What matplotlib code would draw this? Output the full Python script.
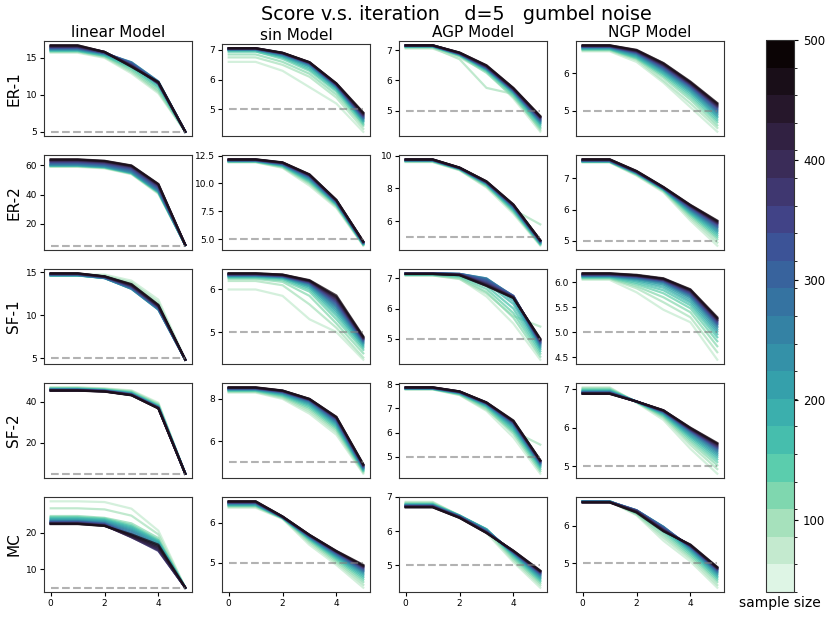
import numpy as np
import matplotlib
matplotlib.use("Agg")
import matplotlib.pyplot as plt
from matplotlib.colors import ListedColormap, BoundaryNorm
import matplotlib.cm as cm
import seaborn as sns

iterations = [0, 1, 2, 3, 4, 5]
graphs = ["ER-1", "ER-2", "SF-1", "SF-2", "MC"]
models = ["linear Model", "sin Model", "AGP Model", "NGP Model"]
true_value = 5
# 20 sample-size levels, rows go from smallest (lightest) to largest (darkest)
bounds = np.linspace(40, 500, 21)
cbar_ticks = [100, 200, 300, 400, 500]

# ---------------- ER-1 ----------------
er1_lin = [
    [15.7, 15.7, 15.0, 12.9, 10.2, 5.0], [15.8, 15.8, 15.1, 13.1, 10.4, 5.0],
    [15.9, 15.9, 15.2, 13.3, 10.6, 5.0], [15.9, 15.9, 15.3, 13.5, 10.9, 5.0],
    [16.0, 16.0, 15.3, 13.7, 11.1, 5.0], [16.0, 16.0, 15.4, 13.9, 11.3, 5.0],
    [16.1, 16.1, 15.5, 14.1, 11.5, 5.0], [16.1, 16.1, 15.5, 14.2, 11.6, 5.0],
    [16.2, 16.2, 15.6, 14.4, 11.8, 5.0], [16.2, 16.2, 15.6, 14.4, 11.8, 5.0],
    [16.3, 16.3, 15.6, 14.3, 11.7, 5.0], [16.3, 16.3, 15.7, 14.3, 11.7, 5.0],
    [16.4, 16.4, 15.7, 14.2, 11.6, 5.0], [16.4, 16.4, 15.7, 14.1, 11.5, 5.0],
    [16.5, 16.5, 15.7, 14.0, 11.5, 5.0], [16.5, 16.5, 15.8, 14.0, 11.6, 5.0],
    [16.6, 16.6, 15.8, 13.9, 11.6, 5.0], [16.6, 16.6, 15.8, 13.9, 11.7, 5.0],
    [16.7, 16.7, 15.8, 13.8, 11.7, 5.0], [16.7, 16.7, 15.8, 13.8, 11.7, 5.0],
]
er1_sin = [
    [6.60, 6.60, 6.30, 5.75, 5.20, 4.25], [6.75, 6.75, 6.50, 6.10, 5.40, 4.35],
    [6.85, 6.85, 6.60, 6.20, 5.50, 4.45], [6.95, 6.95, 6.70, 6.30, 5.60, 4.50],
    [6.95, 6.95, 6.75, 6.35, 5.65, 4.55], [7.00, 7.00, 6.78, 6.40, 5.70, 4.60],
    [7.00, 7.00, 6.80, 6.45, 5.72, 4.62], [7.00, 7.00, 6.82, 6.47, 5.75, 4.65],
    [7.02, 7.02, 6.84, 6.50, 5.77, 4.68], [7.02, 7.02, 6.85, 6.52, 5.78, 4.70],
    [7.03, 7.03, 6.86, 6.53, 5.80, 4.72], [7.03, 7.03, 6.87, 6.54, 5.81, 4.74],
    [7.04, 7.04, 6.88, 6.55, 5.82, 4.76], [7.04, 7.04, 6.88, 6.56, 5.83, 4.78],
    [7.05, 7.05, 6.89, 6.57, 5.84, 4.80], [7.05, 7.05, 6.89, 6.57, 5.85, 4.82],
    [7.05, 7.05, 6.90, 6.58, 5.86, 4.84], [7.06, 7.06, 6.90, 6.58, 5.86, 4.86],
    [7.06, 7.06, 6.90, 6.59, 5.87, 4.88], [7.06, 7.06, 6.91, 6.59, 5.88, 4.90],
]
er1_agp = [
    [7.05, 7.05, 6.75, 6.30, 5.40, 4.30], [7.08, 7.08, 6.70, 5.75, 5.55, 4.35],
    [7.10, 7.10, 6.80, 6.25, 5.45, 4.40], [7.10, 7.10, 6.82, 6.30, 5.50, 4.45],
    [7.12, 7.12, 6.84, 6.33, 5.55, 4.50], [7.12, 7.12, 6.85, 6.35, 5.58, 4.55],
    [7.13, 7.13, 6.86, 6.37, 5.60, 4.58], [7.13, 7.13, 6.86, 6.38, 5.62, 4.60],
    [7.14, 7.14, 6.87, 6.39, 5.64, 4.63], [7.14, 7.14, 6.87, 6.40, 5.65, 4.65],
    [7.14, 7.14, 6.88, 6.41, 5.66, 4.67], [7.15, 7.15, 6.88, 6.42, 5.67, 4.69],
    [7.15, 7.15, 6.89, 6.43, 5.68, 4.71], [7.15, 7.15, 6.89, 6.44, 5.69, 4.73],
    [7.15, 7.15, 6.90, 6.45, 5.70, 4.75], [7.16, 7.16, 6.90, 6.46, 5.71, 4.77],
    [7.16, 7.16, 6.91, 6.47, 5.72, 4.78], [7.16, 7.16, 6.91, 6.48, 5.73, 4.79],
    [7.16, 7.16, 6.92, 6.49, 5.74, 4.80], [7.16, 7.16, 6.92, 6.50, 5.75, 4.82],
]
er1_ngp = [
    [6.58, 6.58, 6.30, 5.75, 5.10, 4.45], [6.60, 6.60, 6.35, 5.80, 5.20, 4.55],
    [6.62, 6.62, 6.38, 5.88, 5.30, 4.62], [6.63, 6.63, 6.40, 5.93, 5.37, 4.70],
    [6.64, 6.64, 6.42, 5.97, 5.43, 4.76], [6.65, 6.65, 6.44, 6.00, 5.48, 4.82],
    [6.66, 6.66, 6.46, 6.03, 5.52, 4.86], [6.67, 6.67, 6.48, 6.06, 5.55, 4.90],
    [6.68, 6.68, 6.50, 6.08, 5.58, 4.94], [6.69, 6.69, 6.51, 6.10, 5.61, 4.97],
    [6.70, 6.70, 6.53, 6.12, 5.63, 5.00], [6.70, 6.70, 6.54, 6.14, 5.65, 5.03],
    [6.71, 6.71, 6.55, 6.16, 5.67, 5.06], [6.71, 6.71, 6.56, 6.18, 5.69, 5.09],
    [6.72, 6.72, 6.57, 6.20, 5.70, 5.11], [6.72, 6.72, 6.58, 6.21, 5.72, 5.13],
    [6.73, 6.73, 6.59, 6.23, 5.73, 5.15], [6.73, 6.73, 6.60, 6.24, 5.75, 5.17],
    [6.74, 6.74, 6.61, 6.26, 5.76, 5.19], [6.74, 6.74, 6.62, 6.27, 5.78, 5.21],
]

# ---------------- ER-2 ----------------
er2_lin = [
    [59.0, 59.0, 58.0, 54.0, 40.5, 5.5], [59.3, 59.3, 58.3, 54.3, 41.0, 5.5],
    [59.5, 59.5, 58.5, 54.5, 41.3, 5.5], [59.7, 59.7, 58.7, 54.7, 41.6, 5.5],
    [59.8, 59.8, 58.8, 54.8, 41.8, 5.5], [60.0, 60.0, 59.0, 55.0, 42.0, 5.5],
    [60.1, 60.1, 59.1, 55.2, 42.2, 5.5], [60.3, 60.3, 59.3, 55.4, 42.5, 5.5],
    [60.5, 60.5, 59.5, 55.6, 42.8, 5.5], [60.8, 60.8, 59.8, 56.0, 43.2, 5.5],
    [61.2, 61.2, 60.2, 56.5, 43.7, 5.5], [61.6, 61.6, 60.6, 57.0, 44.2, 5.5],
    [62.0, 62.0, 61.0, 57.5, 44.7, 5.5], [62.4, 62.4, 61.4, 58.0, 45.2, 5.5],
    [62.8, 62.8, 61.8, 58.5, 45.7, 5.5], [63.2, 63.2, 62.2, 59.0, 46.2, 5.5],
    [63.5, 63.5, 62.5, 59.3, 46.6, 5.5], [63.8, 63.8, 62.8, 59.6, 46.9, 5.5],
    [64.0, 64.0, 63.0, 59.8, 47.1, 5.5], [64.2, 64.2, 63.2, 60.0, 47.3, 5.5],
]
er2_sin = [
    [11.90, 11.90, 11.40, 9.80, 7.80, 4.40], [11.92, 11.92, 11.45, 9.95, 7.90, 4.45],
    [11.95, 11.95, 11.50, 10.05, 7.98, 4.48], [11.97, 11.97, 11.55, 10.15, 8.05, 4.50],
    [11.99, 11.99, 11.58, 10.22, 8.10, 4.53], [12.00, 12.00, 11.62, 10.30, 8.15, 4.55],
    [12.02, 12.02, 11.65, 10.36, 8.19, 4.57], [12.04, 12.04, 11.68, 10.42, 8.23, 4.59],
    [12.05, 12.05, 11.70, 10.47, 8.27, 4.61], [12.06, 12.06, 11.73, 10.52, 8.30, 4.63],
    [12.08, 12.08, 11.75, 10.57, 8.33, 4.65], [12.09, 12.09, 11.77, 10.61, 8.36, 4.67],
    [12.10, 12.10, 11.79, 10.65, 8.39, 4.69], [12.11, 12.11, 11.81, 10.68, 8.41, 4.70],
    [12.12, 12.12, 11.83, 10.71, 8.43, 4.72], [12.13, 12.13, 11.85, 10.74, 8.45, 4.73],
    [12.14, 12.14, 11.86, 10.76, 8.47, 4.74], [12.15, 12.15, 11.87, 10.78, 8.48, 4.75],
    [12.16, 12.16, 11.88, 10.80, 8.50, 4.76], [12.17, 12.17, 11.90, 10.82, 8.52, 4.78],
]
er2_agp = [
    [9.60, 9.60, 9.10, 8.05, 6.45, 4.50], [9.62, 9.62, 9.12, 8.10, 6.70, 5.80],
    [9.64, 9.64, 9.14, 8.15, 6.55, 4.55], [9.66, 9.66, 9.16, 8.19, 6.62, 4.58],
    [9.67, 9.67, 9.17, 8.22, 6.68, 4.61], [9.68, 9.68, 9.18, 8.25, 6.73, 4.64],
    [9.69, 9.69, 9.19, 8.27, 6.77, 4.66], [9.70, 9.70, 9.20, 8.29, 6.80, 4.68],
    [9.71, 9.71, 9.21, 8.31, 6.83, 4.70], [9.72, 9.72, 9.22, 8.33, 6.86, 4.72],
    [9.72, 9.72, 9.22, 8.34, 6.88, 4.74], [9.73, 9.73, 9.23, 8.35, 6.90, 4.75],
    [9.73, 9.73, 9.23, 8.36, 6.92, 4.77], [9.74, 9.74, 9.24, 8.37, 6.94, 4.78],
    [9.74, 9.74, 9.24, 8.38, 6.96, 4.79], [9.75, 9.75, 9.25, 8.39, 6.97, 4.80],
    [9.75, 9.75, 9.25, 8.40, 6.98, 4.81], [9.76, 9.76, 9.26, 8.41, 6.99, 4.82],
    [9.76, 9.76, 9.26, 8.42, 7.00, 4.83], [9.77, 9.77, 9.27, 8.43, 7.02, 4.84],
]
er2_ngp = [
    [7.50, 7.50, 7.08, 6.55, 5.65, 4.85], [7.51, 7.51, 7.10, 6.58, 5.72, 4.95],
    [7.52, 7.52, 7.12, 6.60, 5.78, 5.05], [7.52, 7.52, 7.13, 6.62, 5.83, 5.12],
    [7.53, 7.53, 7.14, 6.63, 5.87, 5.18], [7.53, 7.53, 7.15, 6.64, 5.90, 5.24],
    [7.54, 7.54, 7.16, 6.65, 5.93, 5.29], [7.54, 7.54, 7.17, 6.66, 5.96, 5.33],
    [7.55, 7.55, 7.17, 6.67, 5.98, 5.37], [7.55, 7.55, 7.18, 6.67, 6.00, 5.41],
    [7.56, 7.56, 7.18, 6.68, 6.02, 5.44], [7.56, 7.56, 7.19, 6.68, 6.04, 5.47],
    [7.57, 7.57, 7.19, 6.69, 6.06, 5.50], [7.57, 7.57, 7.20, 6.69, 6.08, 5.53],
    [7.58, 7.58, 7.20, 6.70, 6.09, 5.55], [7.58, 7.58, 7.21, 6.70, 6.11, 5.57],
    [7.59, 7.59, 7.21, 6.70, 6.12, 5.59], [7.59, 7.59, 7.22, 6.71, 6.13, 5.61],
    [7.60, 7.60, 7.22, 6.71, 6.14, 5.63], [7.60, 7.60, 7.23, 6.72, 6.15, 5.65],
]

# ---------------- SF-1 ----------------
sf1_lin = [
    [14.70, 14.70, 14.70, 14.00, 11.80, 4.85], [14.65, 14.65, 14.60, 13.80, 11.50, 4.85],
    [14.62, 14.62, 14.50, 13.60, 11.20, 4.85], [14.60, 14.60, 14.40, 13.40, 11.00, 4.85],
    [14.60, 14.60, 14.35, 13.25, 10.85, 4.85], [14.60, 14.60, 14.30, 13.15, 10.75, 4.85],
    [14.62, 14.62, 14.30, 13.10, 10.70, 4.85], [14.63, 14.63, 14.30, 13.05, 10.65, 4.85],
    [14.65, 14.65, 14.30, 13.05, 10.65, 4.85], [14.67, 14.67, 14.32, 13.10, 10.70, 4.85],
    [14.70, 14.70, 14.35, 13.15, 10.75, 4.85], [14.72, 14.72, 14.37, 13.20, 10.80, 4.85],
    [14.74, 14.74, 14.40, 13.25, 10.85, 4.85], [14.76, 14.76, 14.42, 13.30, 10.90, 4.85],
    [14.78, 14.78, 14.44, 13.35, 10.95, 4.85], [14.80, 14.80, 14.46, 13.40, 11.00, 4.85],
    [14.81, 14.81, 14.47, 13.45, 11.05, 4.85], [14.82, 14.82, 14.48, 13.50, 11.10, 4.85],
    [14.84, 14.84, 14.49, 13.55, 11.15, 4.85], [14.85, 14.85, 14.50, 13.60, 11.20, 4.85],
]
sf1_sin = [
    [6.00, 6.00, 5.85, 5.30, 5.00, 4.35], [6.20, 6.20, 6.10, 5.65, 5.10, 4.40],
    [6.25, 6.25, 6.18, 5.85, 5.20, 4.50], [6.27, 6.27, 6.22, 5.95, 5.30, 4.58],
    [6.29, 6.29, 6.25, 6.00, 5.38, 4.63], [6.30, 6.30, 6.27, 6.04, 5.44, 4.67],
    [6.31, 6.31, 6.28, 6.07, 5.49, 4.70], [6.32, 6.32, 6.29, 6.09, 5.53, 4.73],
    [6.33, 6.33, 6.30, 6.11, 5.57, 4.75], [6.33, 6.33, 6.30, 6.13, 5.60, 4.77],
    [6.34, 6.34, 6.31, 6.14, 5.63, 4.79], [6.34, 6.34, 6.31, 6.15, 5.66, 4.80],
    [6.35, 6.35, 6.32, 6.16, 5.69, 4.82], [6.35, 6.35, 6.32, 6.17, 5.71, 4.83],
    [6.36, 6.36, 6.33, 6.18, 5.74, 4.84], [6.36, 6.36, 6.33, 6.19, 5.76, 4.85],
    [6.37, 6.37, 6.34, 6.20, 5.79, 4.86], [6.37, 6.37, 6.34, 6.20, 5.81, 4.87],
    [6.38, 6.38, 6.35, 6.21, 5.83, 4.88], [6.38, 6.38, 6.35, 6.22, 5.86, 4.90],
]
sf1_agp = [
    [7.10, 7.10, 7.00, 6.40, 5.50, 4.30], [7.10, 7.10, 6.98, 6.50, 5.75, 5.40],
    [7.11, 7.11, 7.02, 6.55, 5.70, 4.40], [7.12, 7.12, 7.05, 6.65, 5.85, 4.50],
    [7.13, 7.13, 7.08, 6.75, 6.00, 4.58], [7.14, 7.14, 7.10, 6.85, 6.15, 4.65],
    [7.15, 7.15, 7.12, 6.92, 6.25, 4.70], [7.16, 7.16, 7.14, 6.97, 6.32, 4.74],
    [7.17, 7.17, 7.15, 7.00, 6.38, 4.78], [7.17, 7.17, 7.15, 7.00, 6.40, 4.81],
    [7.17, 7.17, 7.15, 6.98, 6.42, 4.84], [7.17, 7.17, 7.15, 6.95, 6.42, 4.86],
    [7.17, 7.17, 7.14, 6.92, 6.41, 4.88], [7.16, 7.16, 7.14, 6.88, 6.40, 4.90],
    [7.16, 7.16, 7.13, 6.85, 6.39, 4.92], [7.16, 7.16, 7.13, 6.82, 6.38, 4.94],
    [7.16, 7.16, 7.12, 6.80, 6.37, 4.95], [7.15, 7.15, 7.12, 6.78, 6.36, 4.97],
    [7.15, 7.15, 7.11, 6.76, 6.36, 4.98], [7.15, 7.15, 7.11, 6.75, 6.35, 5.00],
]
sf1_ngp = [
    [6.05, 6.05, 5.80, 5.45, 5.20, 4.45], [6.07, 6.07, 5.88, 5.60, 5.30, 4.60],
    [6.08, 6.08, 5.92, 5.70, 5.40, 4.72], [6.09, 6.09, 5.96, 5.78, 5.48, 4.82],
    [6.10, 6.10, 5.99, 5.84, 5.54, 4.90], [6.11, 6.11, 6.02, 5.89, 5.59, 4.96],
    [6.12, 6.12, 6.04, 5.93, 5.63, 5.01], [6.12, 6.12, 6.06, 5.96, 5.67, 5.05],
    [6.13, 6.13, 6.07, 5.98, 5.70, 5.09], [6.13, 6.13, 6.08, 6.00, 5.72, 5.12],
    [6.14, 6.14, 6.09, 6.01, 5.74, 5.15], [6.14, 6.14, 6.10, 6.02, 5.76, 5.17],
    [6.15, 6.15, 6.11, 6.03, 5.77, 5.19], [6.15, 6.15, 6.12, 6.04, 5.79, 5.21],
    [6.16, 6.16, 6.12, 6.05, 5.80, 5.23], [6.16, 6.16, 6.13, 6.05, 5.82, 5.24],
    [6.17, 6.17, 6.13, 6.06, 5.83, 5.26], [6.17, 6.17, 6.14, 6.07, 5.84, 5.27],
    [6.18, 6.18, 6.14, 6.07, 5.85, 5.28], [6.18, 6.18, 6.15, 6.08, 5.86, 5.30],
]

# ---------------- SF-2 ----------------
sf2_lin = [
    [47.0, 47.0, 46.5, 45.5, 39.5, 5.0], [46.8, 46.8, 46.3, 45.2, 39.0, 5.0],
    [46.6, 46.6, 46.1, 44.9, 38.6, 5.0], [46.4, 46.4, 45.9, 44.6, 38.3, 5.0],
    [46.3, 46.3, 45.8, 44.4, 38.0, 5.0], [46.2, 46.2, 45.7, 44.2, 37.8, 5.0],
    [46.1, 46.1, 45.6, 44.0, 37.6, 5.0], [46.0, 46.0, 45.5, 43.9, 37.5, 5.0],
    [45.9, 45.9, 45.4, 43.8, 37.4, 5.0], [45.8, 45.8, 45.4, 43.7, 37.3, 5.0],
    [45.8, 45.8, 45.3, 43.6, 37.2, 5.0], [45.7, 45.7, 45.3, 43.5, 37.1, 5.0],
    [45.7, 45.7, 45.2, 43.5, 37.1, 5.0], [45.6, 45.6, 45.2, 43.4, 37.0, 5.0],
    [45.6, 45.6, 45.1, 43.4, 37.0, 5.0], [45.5, 45.5, 45.1, 43.3, 36.9, 5.0],
    [45.5, 45.5, 45.0, 43.3, 36.9, 5.0], [45.5, 45.5, 45.0, 43.2, 36.8, 5.0],
    [45.4, 45.4, 45.0, 43.2, 36.8, 5.0], [45.4, 45.4, 44.9, 43.1, 36.7, 5.0],
]
sf2_sin = [
    [8.30, 8.30, 8.00, 7.30, 6.30, 4.45], [8.33, 8.33, 8.05, 7.40, 6.42, 4.50],
    [8.36, 8.36, 8.10, 7.50, 6.52, 4.55], [8.38, 8.38, 8.14, 7.58, 6.60, 4.58],
    [8.40, 8.40, 8.18, 7.65, 6.67, 4.61], [8.42, 8.42, 8.21, 7.71, 6.73, 4.64],
    [8.43, 8.43, 8.24, 7.76, 6.79, 4.67], [8.45, 8.45, 8.26, 7.80, 6.84, 4.69],
    [8.46, 8.46, 8.28, 7.84, 6.88, 4.71], [8.47, 8.47, 8.30, 7.87, 6.92, 4.73],
    [8.48, 8.48, 8.32, 7.90, 6.96, 4.75], [8.49, 8.49, 8.33, 7.92, 6.99, 4.77],
    [8.50, 8.50, 8.34, 7.94, 7.02, 4.79], [8.51, 8.51, 8.35, 7.95, 7.05, 4.81],
    [8.52, 8.52, 8.36, 7.96, 7.07, 4.83], [8.52, 8.52, 8.37, 7.97, 7.09, 4.84],
    [8.53, 8.53, 8.38, 7.98, 7.11, 4.86], [8.53, 8.53, 8.39, 7.99, 7.12, 4.87],
    [8.54, 8.54, 8.39, 8.00, 7.14, 4.88], [8.55, 8.55, 8.40, 8.00, 7.15, 4.90],
]
sf2_agp = [
    [7.78, 7.78, 7.55, 6.90, 5.80, 4.30], [7.79, 7.79, 7.56, 6.95, 6.05, 5.50],
    [7.80, 7.80, 7.58, 7.00, 5.95, 4.40], [7.80, 7.80, 7.60, 7.05, 6.05, 4.48],
    [7.81, 7.81, 7.61, 7.08, 6.12, 4.55], [7.81, 7.81, 7.62, 7.11, 6.18, 4.60],
    [7.82, 7.82, 7.63, 7.13, 6.23, 4.64], [7.82, 7.82, 7.64, 7.15, 6.27, 4.67],
    [7.83, 7.83, 7.65, 7.17, 6.31, 4.70], [7.83, 7.83, 7.66, 7.18, 6.34, 4.72],
    [7.84, 7.84, 7.66, 7.19, 6.37, 4.74], [7.84, 7.84, 7.67, 7.20, 6.39, 4.76],
    [7.85, 7.85, 7.67, 7.21, 6.41, 4.78], [7.85, 7.85, 7.68, 7.22, 6.43, 4.79],
    [7.85, 7.85, 7.68, 7.22, 6.44, 4.81], [7.86, 7.86, 7.69, 7.23, 6.45, 4.82],
    [7.86, 7.86, 7.69, 7.23, 6.46, 4.83], [7.86, 7.86, 7.70, 7.24, 6.47, 4.84],
    [7.87, 7.87, 7.70, 7.24, 6.48, 4.85], [7.87, 7.87, 7.70, 7.25, 6.50, 4.86],
]
sf2_ngp = [
    [7.05, 7.05, 6.65, 6.20, 5.45, 4.80], [7.03, 7.03, 6.66, 6.25, 5.55, 4.92],
    [7.01, 7.01, 6.67, 6.28, 5.62, 5.02], [6.99, 6.99, 6.67, 6.31, 5.68, 5.10],
    [6.98, 6.98, 6.67, 6.33, 5.73, 5.17], [6.96, 6.96, 6.68, 6.35, 5.77, 5.23],
    [6.95, 6.95, 6.68, 6.37, 5.80, 5.28], [6.94, 6.94, 6.68, 6.38, 5.83, 5.32],
    [6.93, 6.93, 6.68, 6.39, 5.86, 5.36], [6.92, 6.92, 6.68, 6.40, 5.88, 5.39],
    [6.92, 6.92, 6.68, 6.41, 5.90, 5.42], [6.91, 6.91, 6.68, 6.42, 5.92, 5.45],
    [6.91, 6.91, 6.68, 6.42, 5.93, 5.47], [6.90, 6.90, 6.68, 6.43, 5.94, 5.49],
    [6.90, 6.90, 6.68, 6.43, 5.95, 5.51], [6.89, 6.89, 6.68, 6.44, 5.96, 5.53],
    [6.89, 6.89, 6.68, 6.44, 5.97, 5.55], [6.89, 6.89, 6.68, 6.45, 5.98, 5.57],
    [6.88, 6.88, 6.68, 6.45, 5.99, 5.58], [6.88, 6.88, 6.68, 6.45, 6.00, 5.60],
]

# ---------------- MC ----------------
mc_lin = [
    [28.5, 28.5, 28.3, 26.5, 20.5, 5.0], [26.6, 26.6, 26.3, 24.6, 19.5, 5.0],
    [24.5, 24.5, 24.0, 22.5, 18.5, 5.0], [24.2, 24.2, 23.8, 22.0, 18.0, 5.0],
    [24.0, 24.0, 23.6, 21.7, 17.8, 5.0], [23.8, 23.8, 23.4, 21.4, 17.5, 5.0],
    [23.6, 23.6, 23.2, 21.1, 17.3, 5.0], [23.4, 23.4, 23.0, 20.8, 17.0, 5.0],
    [23.2, 23.2, 22.8, 20.5, 16.7, 5.0], [23.1, 23.1, 22.6, 20.2, 16.4, 5.0],
    [23.0, 23.0, 22.5, 19.8, 16.0, 5.0], [22.9, 22.9, 22.4, 19.5, 15.7, 5.0],
    [22.8, 22.8, 22.3, 19.2, 15.4, 5.0], [22.7, 22.7, 22.2, 19.0, 15.2, 5.0],
    [22.6, 22.6, 22.1, 18.8, 15.0, 5.0], [22.5, 22.5, 22.0, 18.7, 15.2, 5.0],
    [22.5, 22.5, 21.9, 18.8, 15.5, 5.0], [22.4, 22.4, 21.9, 19.0, 15.9, 5.0],
    [22.4, 22.4, 21.8, 19.2, 16.3, 5.0], [22.3, 22.3, 21.8, 19.5, 16.7, 5.0],
]
mc_sin = [
    [6.38, 6.38, 6.10, 5.45, 4.95, 4.38], [6.40, 6.40, 6.11, 5.50, 5.00, 4.45],
    [6.42, 6.42, 6.12, 5.54, 5.04, 4.52], [6.43, 6.43, 6.12, 5.57, 5.08, 4.58],
    [6.44, 6.44, 6.13, 5.59, 5.11, 4.63], [6.45, 6.45, 6.13, 5.61, 5.14, 4.67],
    [6.46, 6.46, 6.13, 5.62, 5.16, 4.71], [6.47, 6.47, 6.14, 5.63, 5.18, 4.74],
    [6.48, 6.48, 6.14, 5.64, 5.20, 4.77], [6.49, 6.49, 6.14, 5.65, 5.21, 4.79],
    [6.50, 6.50, 6.14, 5.66, 5.23, 4.81], [6.50, 6.50, 6.15, 5.67, 5.24, 4.83],
    [6.51, 6.51, 6.15, 5.67, 5.25, 4.85], [6.51, 6.51, 6.15, 5.68, 5.26, 4.87],
    [6.52, 6.52, 6.15, 5.68, 5.27, 4.88], [6.52, 6.52, 6.15, 5.69, 5.28, 4.90],
    [6.53, 6.53, 6.15, 5.69, 5.28, 4.91], [6.53, 6.53, 6.16, 5.70, 5.29, 4.92],
    [6.54, 6.54, 6.16, 5.70, 5.29, 4.93], [6.54, 6.54, 6.16, 5.70, 5.30, 4.95],
]
mc_agp = [
    [6.86, 6.86, 6.45, 5.95, 5.10, 4.35], [6.84, 6.84, 6.46, 6.00, 5.15, 4.42],
    [6.82, 6.82, 6.46, 6.03, 5.20, 4.48], [6.80, 6.80, 6.46, 6.05, 5.24, 4.53],
    [6.79, 6.79, 6.46, 6.06, 5.28, 4.57], [6.78, 6.78, 6.45, 6.06, 5.31, 4.61],
    [6.77, 6.77, 6.45, 6.05, 5.33, 4.64], [6.76, 6.76, 6.45, 6.04, 5.35, 4.67],
    [6.76, 6.76, 6.44, 6.03, 5.36, 4.70], [6.75, 6.75, 6.44, 6.02, 5.37, 4.72],
    [6.74, 6.74, 6.43, 6.01, 5.38, 4.74], [6.74, 6.74, 6.43, 6.00, 5.39, 4.76],
    [6.73, 6.73, 6.42, 5.99, 5.40, 4.77], [6.73, 6.73, 6.42, 5.98, 5.40, 4.79],
    [6.72, 6.72, 6.41, 5.97, 5.41, 4.80], [6.72, 6.72, 6.41, 5.97, 5.41, 4.81],
    [6.71, 6.71, 6.40, 5.96, 5.42, 4.82], [6.71, 6.71, 6.40, 5.96, 5.42, 4.83],
    [6.70, 6.70, 6.39, 5.95, 5.43, 4.84], [6.70, 6.70, 6.39, 5.95, 5.43, 4.85],
]
mc_ngp = [
    [6.65, 6.65, 6.28, 5.60, 5.05, 4.35], [6.65, 6.65, 6.30, 5.68, 5.12, 4.42],
    [6.65, 6.65, 6.32, 5.75, 5.18, 4.50], [6.65, 6.65, 6.34, 5.82, 5.23, 4.56],
    [6.65, 6.65, 6.36, 5.87, 5.28, 4.61], [6.65, 6.65, 6.38, 5.91, 5.32, 4.65],
    [6.65, 6.65, 6.39, 5.94, 5.35, 4.69], [6.64, 6.64, 6.40, 5.96, 5.38, 4.72],
    [6.64, 6.64, 6.41, 5.97, 5.40, 4.75], [6.64, 6.64, 6.41, 5.97, 5.42, 4.77],
    [6.64, 6.64, 6.41, 5.96, 5.43, 4.79], [6.64, 6.64, 6.41, 5.95, 5.44, 4.81],
    [6.63, 6.63, 6.40, 5.93, 5.45, 4.83], [6.63, 6.63, 6.40, 5.92, 5.46, 4.84],
    [6.63, 6.63, 6.39, 5.90, 5.47, 4.85], [6.63, 6.63, 6.39, 5.89, 5.47, 4.86],
    [6.63, 6.63, 6.38, 5.88, 5.48, 4.87], [6.63, 6.63, 6.37, 5.87, 5.48, 4.88],
    [6.62, 6.62, 6.36, 5.86, 5.49, 4.89], [6.62, 6.62, 6.35, 5.85, 5.50, 4.90],
]

scores = [
    [er1_lin, er1_sin, er1_agp, er1_ngp],
    [er2_lin, er2_sin, er2_agp, er2_ngp],
    [sf1_lin, sf1_sin, sf1_agp, sf1_ngp],
    [sf2_lin, sf2_sin, sf2_agp, sf2_ngp],
    [mc_lin, mc_sin, mc_agp, mc_ngp],
]
yticks = [
    [[5, 10, 15], [5, 6, 7], [5, 6, 7], [5, 6]],
    [[20, 40, 60], [5.0, 7.5, 10.0, 12.5], [6, 8, 10], [5, 6, 7]],
    [[5, 10, 15], [5, 6], [5, 6, 7], [4.5, 5.0, 5.5, 6.0]],
    [[20, 40], [6, 8], [5, 6, 7, 8], [5, 6, 7]],
    [[10, 20], [5, 6], [5, 6, 7], [5, 6]],
]

W, H = 831, 617
fig = plt.figure(figsize=(W / 100, H / 100), dpi=100)

mako_r = sns.color_palette("mako_r", as_cmap=True)
bar_colors = [mako_r(v) for v in np.linspace(0, 1, 20)]
line_colors = sns.color_palette("mako_r", 20)

col_left = [44, 222, 399, 576]
row_top = [41, 155, 269, 383, 497]
ax_w, ax_h = 148, 95

for r in range(5):
    for c in range(4):
        top = row_top[r]
        h = ax_h
        if r == 0 and c == 1:
            top, h = 44, 92
        ax = fig.add_axes([col_left[c] / W, (H - top - h) / H, ax_w / W, h / H])
        for i, line in enumerate(scores[r][c]):
            ax.plot(iterations, line, color=line_colors[i], lw=1.6, alpha=0.75)
        ax.plot([iterations[0], iterations[-1]], [true_value, true_value],
                '--', color='gray', alpha=0.6, lw=1.5)
        ax.set_yticks(yticks[r][c])
        ax.tick_params(labelsize=6.5, length=3, width=0.8, pad=2)
        for sp in ax.spines.values():
            sp.set_color('#333333')
        if r == 4:
            ax.set_xticks([0, 2, 4])
        else:
            ax.set_xticks([])
        if r == 0:
            ax.set_title(models[c], fontsize=11, pad=3)
    fig.text(14 / W, 1 - (row_top[r] + ax_h / 2) / H, graphs[r], rotation=90,
             ha='center', va='center', fontsize=11)

fig.text(456 / W, 1 - 14 / H, "Score v.s. iteration    d=5   gumbel noise",
         ha='center', va='center', fontsize=13.8)

cax = fig.add_axes([766 / W, (H - 592) / H, 28 / W, 552 / H])
sm = cm.ScalarMappable(norm=BoundaryNorm(bounds, 20), cmap=ListedColormap(bar_colors))
cb = fig.colorbar(sm, cax=cax, ticks=cbar_ticks)
cb.ax.tick_params(labelsize=8.5, length=3)
cb.outline.set_edgecolor('#333333')
cax.set_xlabel("sample size", fontsize=10, labelpad=3)

fig.savefig("out.png", dpi=100)
